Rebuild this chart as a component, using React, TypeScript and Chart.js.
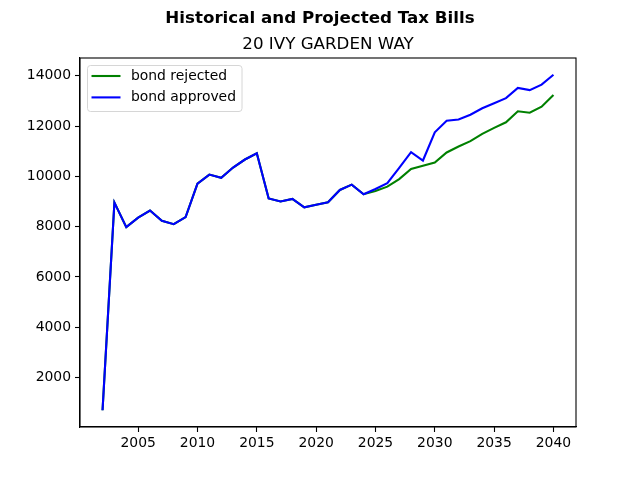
import React, { useEffect, useRef } from 'react';
import { Chart, registerables } from 'chart.js';

Chart.register(...registerables);

const years = [
  2002, 2003, 2004, 2005, 2006, 2007, 2008, 2009, 2010, 2011, 2012, 2013, 2014,
  2015, 2016, 2017, 2018, 2019, 2020, 2021, 2022, 2023, 2024, 2025, 2026, 2027,
  2028, 2029, 2030, 2031, 2032, 2033, 2034, 2035, 2036, 2037, 2038, 2039, 2040,
];

// values shared by both scenarios up to 2024
const history = [
  700, 8960, 7980, 8360, 8640, 8230, 8100, 8380, 9710, 10070, 9940, 10350,
  10670, 10920, 9120, 9000, 9100, 8770, 8870, 8970, 9460, 9670, 9290,
];
const rejectedFuture = [
  9420, 9590, 9890, 10290, 10420, 10550, 10950, 11190, 11400, 11690, 11930,
  12150, 12590, 12530, 12770, 13240,
];
const approvedFuture = [
  9500, 9730, 10340, 10960, 10630, 11750, 12210, 12260, 12450, 12710, 12910,
  13110, 13520, 13430, 13650, 14040,
];

const rejected = [...history, ...rejectedFuture];
const approved = [...history, ...approvedFuture];

const yTicks = [2000, 4000, 6000, 8000, 10000, 12000, 14000];
const xTicks = [2005, 2010, 2015, 2020, 2025, 2030, 2035, 2040];

const suptitle = 'Historical and Projected Tax Bills';
const subtitle = '20 IVY GARDEN WAY';

const FONT = '"DejaVu Sans", sans-serif';

const decorPlugin = {
  id: 'decor',
  afterDraw(chart: any) {
    const { ctx, chartArea } = chart;
    const { left, right, top, bottom } = chartArea;
    ctx.save();
    // frame
    ctx.strokeStyle = '#000';
    ctx.lineWidth = 1.1;
    ctx.strokeRect(left, top, right - left, bottom - top);

    // titles
    ctx.fillStyle = '#000';
    ctx.textAlign = 'center';
    ctx.textBaseline = 'alphabetic';
    ctx.font = `bold 16.7px ${FONT}`;
    ctx.fillText(suptitle, 320, 23);
    ctx.font = `16.7px ${FONT}`;
    ctx.fillText(subtitle, (left + right) / 2, 49);

    // legend box
    const items = [0, 1].map((i) => chart.data.datasets[i]);
    const bx = left + 7.5;
    const by = top + 7.5;
    const bw = 154.5;
    const bh = 46;
    const r = 3;
    ctx.beginPath();
    ctx.moveTo(bx + r, by);
    ctx.lineTo(bx + bw - r, by);
    ctx.arcTo(bx + bw, by, bx + bw, by + r, r);
    ctx.lineTo(bx + bw, by + bh - r);
    ctx.arcTo(bx + bw, by + bh, bx + bw - r, by + bh, r);
    ctx.lineTo(bx + r, by + bh);
    ctx.arcTo(bx, by + bh, bx, by + bh - r, r);
    ctx.lineTo(bx, by + r);
    ctx.arcTo(bx, by, bx + r, by, r);
    ctx.closePath();
    ctx.fillStyle = 'rgba(255,255,255,0.8)';
    ctx.fill();
    ctx.strokeStyle = '#d6d6d6';
    ctx.lineWidth = 1;
    ctx.stroke();

    ctx.font = `13.9px ${FONT}`;
    ctx.textAlign = 'left';
    ctx.textBaseline = 'middle';
    items.forEach((ds: any, i: number) => {
      const y = by + 10.5 + i * 21.4;
      ctx.strokeStyle = ds.borderColor;
      ctx.lineWidth = 2.1;
      ctx.beginPath();
      ctx.moveTo(bx + 4, y);
      ctx.lineTo(bx + 33, y);
      ctx.stroke();
      ctx.fillStyle = '#000';
      ctx.fillText(ds.label, bx + 43.5, y);
    });
    ctx.restore();
  },
};

export default function App() {
  const canvasRef = useRef<HTMLCanvasElement>(null);

  useEffect(() => {
    document.body.style.margin = '0';
    if (!canvasRef.current) return;
    const all = [...rejected, ...approved];
    const lo = Math.min(...all);
    const hi = Math.max(...all);
    const pad = (hi - lo) * 0.05;
    const xPad = (years[years.length - 1] - years[0]) * 0.05;

    const chart = new Chart(canvasRef.current, {
      type: 'line',
      data: {
        datasets: [
          {
            label: 'bond rejected',
            data: years.map((x, i) => ({ x, y: rejected[i] })),
            borderColor: '#008000',
            borderWidth: 2.1,
            pointRadius: 0,
            tension: 0,
            order: 2,
          },
          {
            label: 'bond approved',
            data: years.map((x, i) => ({ x, y: approved[i] })),
            borderColor: '#0000ff',
            borderWidth: 2.1,
            pointRadius: 0,
            tension: 0,
            order: 1,
          },
        ],
      },
      options: {
        responsive: false,
        animation: false,
        layout: { padding: { top: 58, right: 64, left: 0, bottom: 0 } },
        plugins: {
          legend: { display: false },
          title: { display: false },
          tooltip: { enabled: false },
        },
        scales: {
          x: {
            type: 'linear',
            min: years[0] - xPad,
            max: years[years.length - 1] + xPad,
            afterBuildTicks: (s: any) => {
              s.ticks = xTicks.map((v) => ({ value: v }));
            },
            afterFit: (s: any) => {
              s.height = 53;
            },
            grid: {
              drawOnChartArea: false,
              drawTicks: true,
              tickLength: 5,
              tickWidth: 1.1,
              tickColor: '#000',
            },
            border: { display: true, color: '#000', width: 1.1 },
            ticks: {
              color: '#000',
              font: { family: FONT, size: 13.9 },
              padding: 3,
              maxRotation: 0,
              callback: (v: any) => String(v),
            },
          },
          y: {
            type: 'linear',
            min: lo - pad,
            max: hi + pad,
            afterBuildTicks: (s: any) => {
              s.ticks = yTicks.map((v) => ({ value: v }));
            },
            afterFit: (s: any) => {
              s.width = 80;
            },
            grid: {
              drawOnChartArea: false,
              drawTicks: true,
              tickLength: 5,
              tickWidth: 1.1,
              tickColor: '#000',
            },
            border: { display: true, color: '#000', width: 1.1 },
            ticks: {
              color: '#000',
              font: { family: FONT, size: 13.9 },
              padding: 4,
              callback: (v: any) => String(v),
            },
          },
        },
      },
      plugins: [decorPlugin],
    });

    return () => chart.destroy();
  }, []);

  return <canvas ref={canvasRef} width={640} height={480} style={{ display: 'block' }} />;
}
